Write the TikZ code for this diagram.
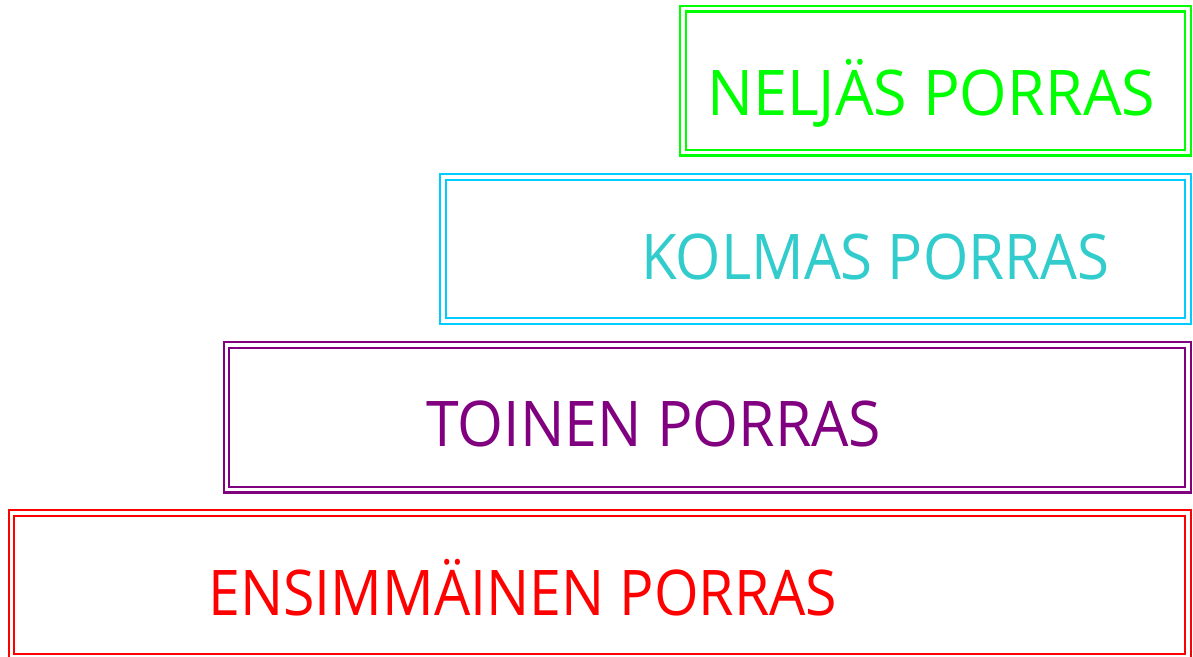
\documentclass[tikz,border=0pt]{standalone}
\usepackage{fontspec}
\setmainfont{Open Sans}
\usepackage{graphicx}
\definecolor{cgreen}{RGB}{0,255,0}
\definecolor{ccyanbox}{RGB}{0,204,255}
\definecolor{ccyantext}{RGB}{51,204,204}
\definecolor{cpurple}{RGB}{128,0,128}
\definecolor{cred}{RGB}{255,0,0}
\newcommand{\fitlabel}[2]{\resizebox{#1}{\height}{#2}}
\begin{document}
\begin{tikzpicture}[x=1pt,y=-1pt,
  stepbox/.style={rectangle, draw=#1, double=white, line width=2.2pt, double distance=3.2pt, inner sep=0pt, minimum height=144pt},
  steplabel/.style={inner sep=0pt, anchor=base west, text=#1, font=\fontsize{63}{63}\selectfont}]
\useasboundingbox (0,0) rectangle (1193,656);
\node[stepbox=cgreen, minimum width=505pt] (b4) at (935.5,80.75) {};
\node[stepbox=ccyanbox, minimum width=745pt] (b3) at (815.5,249) {};
\node[stepbox=cpurple, minimum width=961.5pt, minimum height=144.7pt] (b2) at (707.25,417.35) {};
\node[stepbox=cred, minimum width=1176.7pt, minimum height=143.7pt] (b1) at (599.65,584.85) {};
\node[steplabel=cgreen] (t4) at (707,115) {\fitlabel{448pt}{NELJÄS PORRAS}};
\node[steplabel=ccyantext] (t3) at (641,279.5) {\fitlabel{468pt}{KOLMAS PORRAS}};
\node[steplabel=cpurple] (t2) at (426,446.5) {\fitlabel{455pt}{TOINEN PORRAS}};
\node[steplabel=cred] (t1) at (208,615) {\fitlabel{629pt}{ENSIMMÄINEN PORRAS}};
\end{tikzpicture}
\end{document}
